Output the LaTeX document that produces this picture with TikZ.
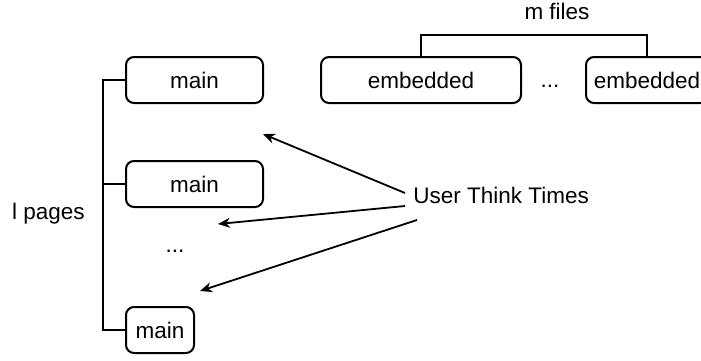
\documentclass[tikz,border=0pt]{standalone}
\usepackage{fontspec}
\setmainfont{Liberation Sans}
\usetikzlibrary{arrows.meta}
\begin{document}
\begin{tikzpicture}[x=0.5pt,y=-0.5pt,
  font=\fontsize{11.25}{13}\selectfont,
  box/.style={draw,line width=1pt,rounded corners=4pt,minimum height=23pt,inner sep=0pt},
  brk/.style={line width=0.55pt},
  arr/.style={line width=0.9pt,-{Stealth[length=6pt,width=5pt]}},
  lbl/.style={inner sep=0pt}]
\useasboundingbox (0,0) rectangle (701,360);
\clip (0,0) rectangle (701,360);
\node[box,minimum width=68.5pt] (m1) at (194.5,80) {main};
\node[box,minimum width=68.5pt] (m2) at (194.5,184) {main};
\node[box,minimum width=34pt] (m3) at (160,330) {main};
\node[box,minimum width=100pt] (e1) at (421,80) {embedded};
\node[box,minimum width=61pt] (e2) at (647,80) {embedded};
\node[lbl] (dots1) at (550,86) {...};
\node[lbl] (dots2) at (175,251) {...};
\node[lbl] (mf) at (557,11) {m files};
\node[lbl] (lp) at (48.5,214) {l pages};
\node[lbl,anchor=west] (ut) at (413,195) {User Think Times};
\coordinate (mfb) at (534.5,35);
\draw[brk] (e1.north) |- (mfb) -| (e2.north);
\draw[brk] (m1.west) -- ++(-22,0) |- (m3.west);
\draw[brk] (m2.west) -- ++(-22,0);
\coordinate (s1) at (405,193);
\coordinate (s2) at (405,206);
\coordinate (s3) at (417,220);
\coordinate (t1) at (263,134);
\coordinate (t2) at (218,224);
\coordinate (t3) at (200,291);
\draw[arr] (s1) -- (t1);
\draw[arr] (s2) -- (t2);
\draw[arr] (s3) -- (t3);
\end{tikzpicture}
\end{document}
